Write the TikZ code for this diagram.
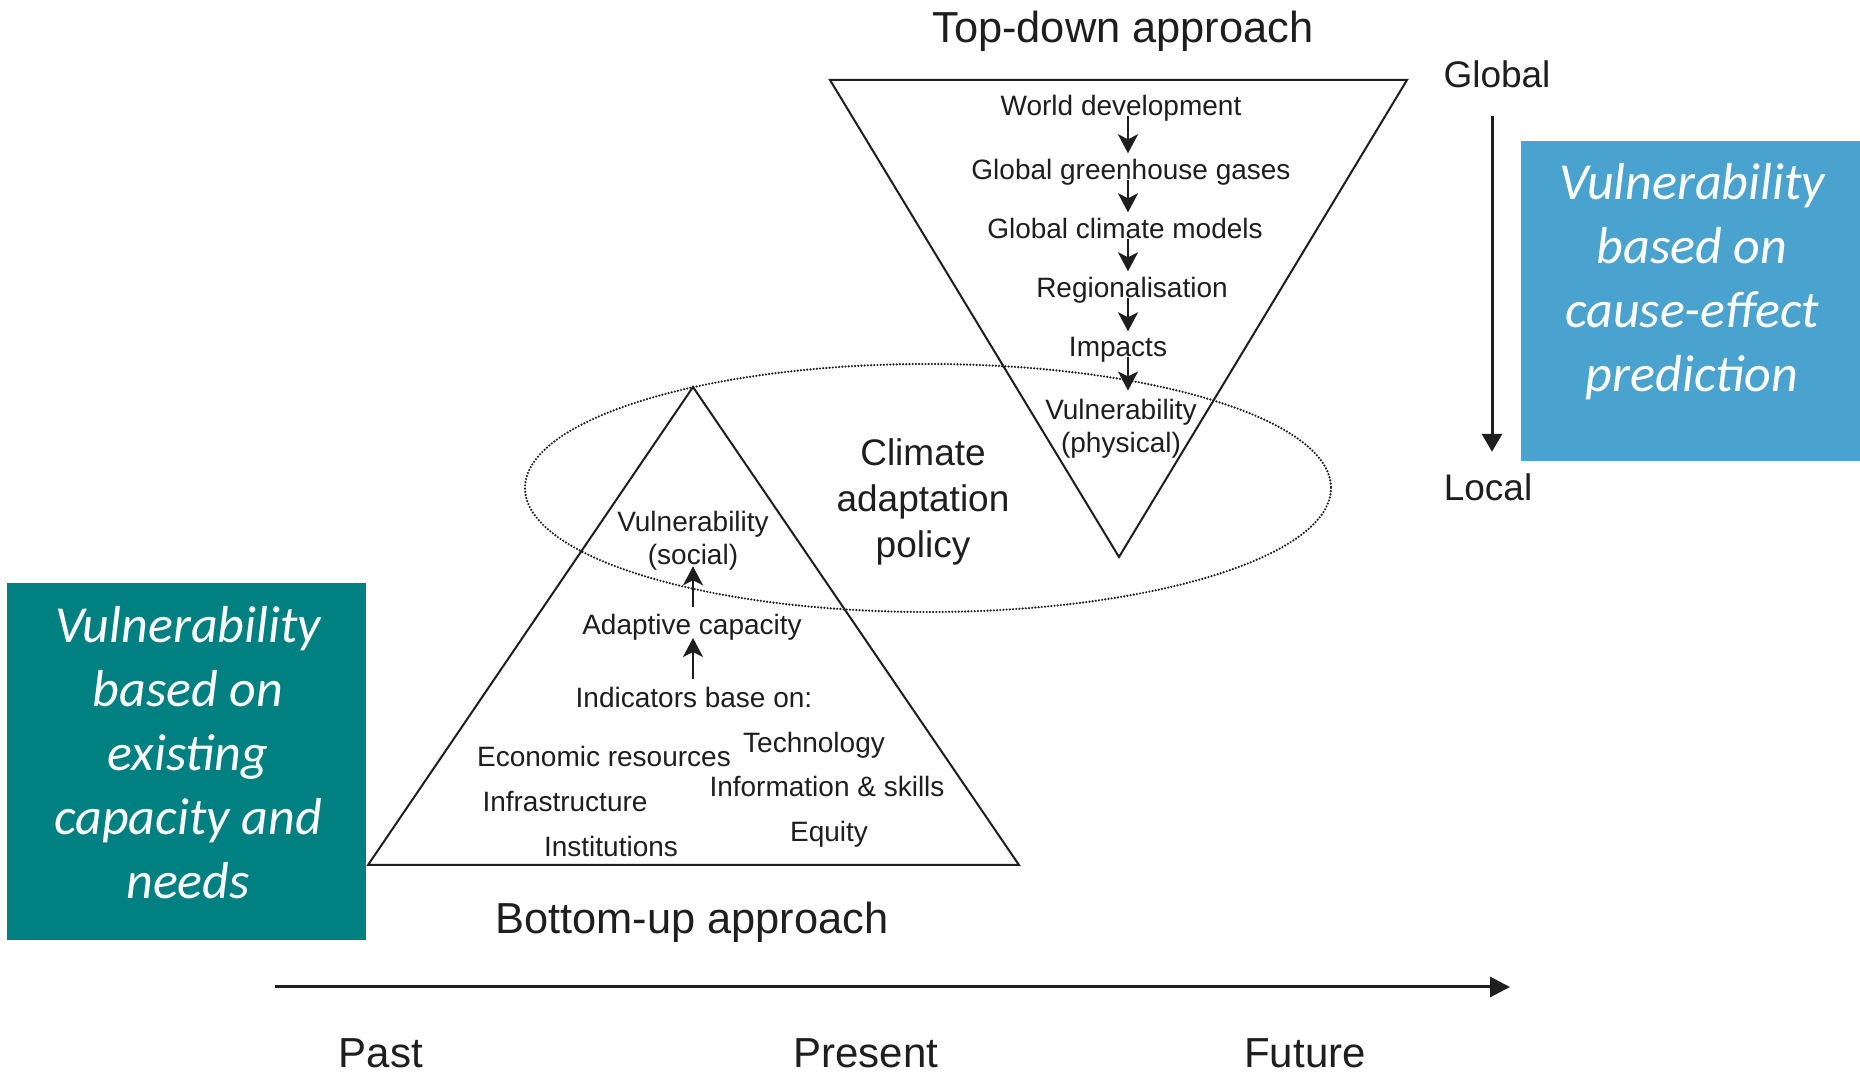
\documentclass[tikz,border=0pt]{standalone}
\usepackage{fontspec}
\setmainfont{Liberation Sans}
\newfontfamily\calfont{Carlito}
\usetikzlibrary{arrows.meta,calc}
\definecolor{tealbox}{HTML}{008080}
\definecolor{bluebox}{HTML}{4AA3CF}
\definecolor{ink}{HTML}{1E1E1E}
\newcommand{\mlines}[1]{\begin{tabular}[t]{@{}c@{}}#1\end{tabular}}
\begin{document}
\begin{tikzpicture}[x=0.5pt,y=-0.5pt,
  lbl/.style={text=ink, inner sep=0pt, anchor=base},
  small/.style={lbl, font=\fontsize{14}{16.5}\selectfont},
  big/.style={lbl, font=\fontsize{21.7}{26}\selectfont},
  axislbl/.style={lbl, font=\fontsize{21}{25}\selectfont},
  mid/.style={lbl, font=\fontsize{18.5}{22.8}\selectfont},
  tri/.style={draw=ink, line width=1pt, line join=miter},
  flow/.style={draw=ink, line width=1.3pt, -{Stealth[length=9.5pt,width=10pt,inset=2.5pt]}},
  boxbg/.style={inner sep=0pt, outer sep=0pt, anchor=north west},
  boxtxt/.style={text=white, inner sep=0pt, anchor=base, font=\calfont\itshape\fontsize{26}{32}\selectfont},
  dottedell/.style={draw=ink, line width=1.2pt, line cap=round, dash pattern=on 0pt off 1.6pt},
]
\fill[white] (0,0) rectangle (1860,1074);
\useasboundingbox (0,0) rectangle (1860,1074);

% coloured boxes
\node[boxbg, fill=bluebox, minimum width=169.5pt, minimum height=160pt] (bluebg) at (1521,141) {};
\node[boxtxt] (bluetxt) at (1692,200) {\mlines{Vulnerability\\based on\\cause-effect\\prediction}};
\node[boxbg, fill=tealbox, minimum width=179.5pt, minimum height=178.5pt] (greenbg) at (7,583) {};
\node[boxtxt] (greentxt) at (188,643) {\mlines{Vulnerability\\based on\\existing\\capacity and\\needs}};

% ellipse
\draw[dottedell] (928,488) ellipse [x radius=403, y radius=124];

% triangles
\draw[tri] (830,80) -- (1407,80) -- (1119,557) -- cycle;
\draw[tri] (693,387) -- (1019,865) -- (368,865) -- cycle;

% titles
\node[big] (topdown) at (1123,43) {Top-down approach};
\node[big] (bottomup) at (692,934) {Bottom-up approach};
\node[mid] (climate) at (923,466) {\mlines{Climate\\adaptation\\policy}};

% top-down chain
\node[small] (wd) at (1121,116) {World development};
\node[small] (ggg) at (1131,180) {Global greenhouse gases};
\node[small] (gcm) at (1125,239) {Global climate models};
\node[small] (reg) at (1132,298) {Regionalisation};
\node[small] (imp) at (1118,357) {Impacts};
\node[small] (vphys) at (1121,420) {\mlines{Vulnerability\\(physical)}};
\coordinate (ax) at (1128,0);
\draw[flow] (ax |- wd.base) -- ($(ax |- ggg.north)+(0,-6)$);
\draw[flow] (ax |- ggg.base) -- ($(ax |- gcm.north)+(0,-6)$);
\draw[flow] (ax |- gcm.base) -- ($(ax |- reg.north)+(0,-6)$);
\draw[flow] (ax |- reg.base) -- ($(ax |- imp.north)+(0,-6)$);
\draw[flow] (ax |- imp.base) -- ($(ax |- vphys.north)+(0,-6)$);

% bottom-up chain
\node[small] (vsoc) at (693,532) {\mlines{Vulnerability\\(social)}};
\node[small] (adc) at (692,635) {Adaptive capacity};
\node[small] (ind) at (694,708) {Indicators base on:};
\node[small] (eco) at (604,767) {Economic resources};
\node[small] (tech) at (814,753) {Technology};
\node[small] (infra) at (565,812) {Infrastructure};
\node[small] (info) at (827,797) {Information \& skills};
\node[small] (inst) at (611,857) {Institutions};
\node[small] (eq) at (829,842) {Equity};
\coordinate (bx) at (693,0);
\draw[flow] ($(bx |- adc.north)+(0,-7)$) -- ($(bx |- vsoc.south)+(0,-9)$);
\draw[flow] ($(bx |- ind.north)+(0,-8)$) -- ($(bx |- adc.base)+(0,3)$);

% global / local
\node[mid] (global) at (1497,88) {Global};
\node[mid] (local) at (1488,501) {Local};
\coordinate (gx) at (1492,0);
\draw[draw=ink, line width=1.5pt, -{Triangle[length=9pt,width=10pt]}, shorten <=13.5pt, shorten >=11pt] (gx |- global.south) -- (gx |- local.north);

% time axis
\coordinate (t0) at (275,987);
\coordinate (t1) at (1510,987);
\draw[draw=ink, line width=1.5pt, -{Triangle[length=10pt,width=10pt]}] (t0) -- (t1);
\node[axislbl] (past) at (381,1067) {Past};
\node[axislbl] (present) at (866,1067) {Present};
\node[axislbl] (future) at (1305,1067) {Future};
\end{tikzpicture}
\end{document}
